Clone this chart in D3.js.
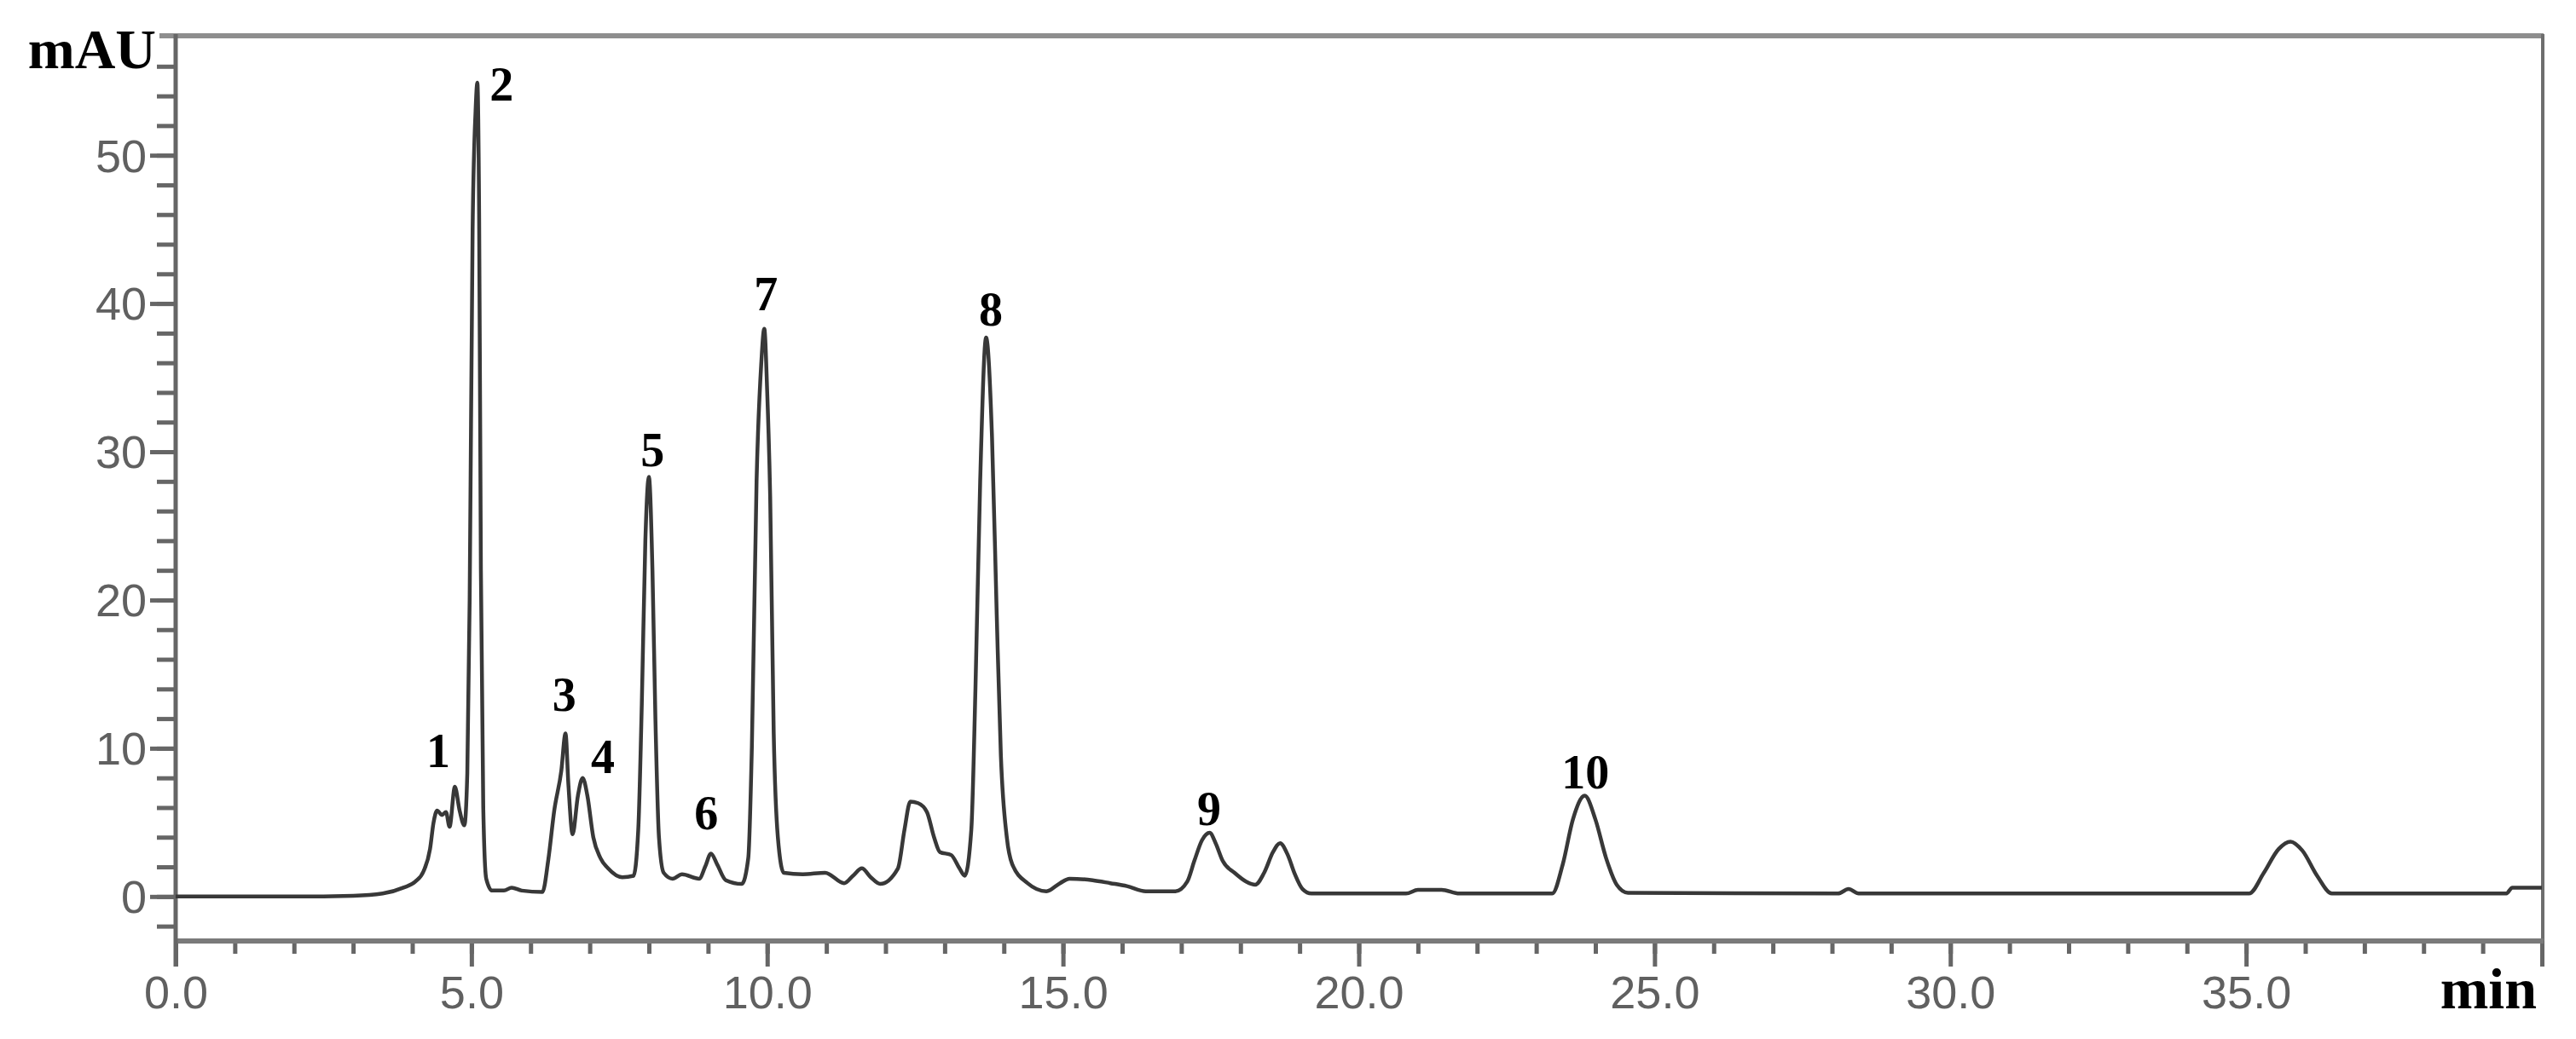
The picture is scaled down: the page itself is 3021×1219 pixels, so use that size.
<!DOCTYPE html>
<html><head><meta charset="utf-8">
<script src="https://cdn.jsdelivr.net/npm/d3@7/dist/d3.min.js"></script>
<style>body{margin:0;background:#fff}svg{display:block}</style>
</head><body>
<svg id="chart" width="3021" height="1219"></svg>
<script>
// ---- data ----
const times = [0.0,1.0,2.0,3.0,3.5,3.85,4.05,4.19,4.30,4.36,4.42,4.50,4.57,4.63,4.72,4.80,4.88,4.93,4.97,5.02,5.07,5.10,5.13,5.16,5.20,5.25,5.35,5.55,5.68,5.85,6.20,6.30,6.40,6.52,6.59,6.64,6.71,6.80,6.88,6.96,7.06,7.18,7.31,7.55,7.74,7.82,7.88,7.94,8.00,8.06,8.11,8.17,8.25,8.40,8.56,8.85,8.95,9.05,9.15,9.30,9.57,9.68,9.74,9.82,9.90,9.95,10.00,10.05,10.11,10.18,10.28,10.60,10.98,11.30,11.45,11.60,11.75,11.91,12.21,12.32,12.42,12.55,12.70,12.82,12.92,13.11,13.25,13.34,13.45,13.52,13.60,13.70,13.80,13.88,13.95,14.05,14.14,14.40,14.72,14.95,15.11,15.50,15.80,16.08,16.40,16.90,17.10,17.22,17.35,17.48,17.58,17.70,17.90,18.10,18.25,18.40,18.55,18.67,18.80,18.92,19.05,19.20,20.00,20.80,21.00,21.40,21.70,23.27,23.45,23.62,23.82,24.00,24.18,24.36,24.55,28.10,28.28,28.45,35.05,35.30,35.55,35.75,35.95,36.20,36.45,39.40,39.50,40.00];
const absorbance = [0.0,0.0,0.0,0.05,0.2,0.6,1.0,1.7,3.2,5.0,5.8,5.5,5.7,4.7,7.4,5.8,4.8,8.3,20,45,53,54.9,46,22,6,1.2,0.4,0.4,0.6,0.4,0.3,2.5,5.8,8.5,11.0,7.5,4.2,6.8,8.0,6.8,4.0,2.6,1.9,1.3,1.4,4.5,13,24,28.3,22,12,4,1.6,1.2,1.5,1.2,2.0,2.9,2.2,1.1,0.85,2.6,10,28,36,38.3,34,27,11,4,1.6,1.5,1.6,0.9,1.4,1.9,1.3,0.85,1.9,4.5,6.4,6.3,5.7,4.0,3.0,2.8,1.9,1.4,4.5,14,28,37.7,31,19,9.5,4.0,2.2,0.9,0.35,0.9,1.2,1.1,0.9,0.7,0.35,0.35,1.0,2.4,3.8,4.3,3.6,2.4,1.6,1.0,0.8,1.6,3.0,3.6,2.8,1.5,0.5,0.2,0.2,0.2,0.45,0.45,0.2,0.2,2.2,5.2,6.8,5.2,2.6,0.8,0.25,0.2,0.5,0.2,0.2,1.6,3.2,3.7,3.1,1.4,0.2,0.2,0.6,0.6];
const peakNames = ["1","2","3","4","5","6","7","8","9","10"];
const peakLabelTimes = [4.44,5.51,6.57,7.22,8.06,8.97,9.98,13.78,17.47,23.83];
const peakLabelValues = [8.74,53.68,12.53,8.33,29.02,4.54,39.54,38.51,4.83,7.30];
const xMajorTicks = [0,5,10,15,20,25,30,35,40];
const xTickLabels = ["0.0","5.0","10.0","15.0","20.0","25.0","30.0","35.0",""];
const yMajorTicks = [0,10,20,30,40,50];
const yTickLabels = ["0","10","20","30","40","50"];
const xUnit = "min";
const yUnit = "mAU";

// ---- layout ----
const svg = d3.select("#chart");
const L = 206, R = 2981, T = 43, B = 1104;
const x = d3.scaleLinear().domain([0, 40]).range([L, R]);
const y = d3.scaleLinear().domain([-3, 58]).range([B, T]);
const axisCol = "#666";
const labelFont = "'Liberation Sans Narrow','Arial Narrow','Liberation Sans',sans-serif";
const serif = "'Liberation Serif','Times New Roman',serif";

svg.append("rect").attr("width", 3021).attr("height", 1219).attr("fill", "#fff");

// frame: top and right borders
svg.append("line").attr("x1", 187).attr("x2", R + 2).attr("y1", 42).attr("y2", 42)
  .attr("stroke", "#8e8e8e").attr("stroke-width", 6);
svg.append("line").attr("x1", R + 1).attr("x2", R + 1).attr("y1", 40).attr("y2", B)
  .attr("stroke", "#6e6e6e").attr("stroke-width", 4);

// x axis minor ticks
const xMinor = svg.append("g").attr("transform", `translate(0,${B})`)
  .call(d3.axisBottom(x).tickValues(d3.range(1, 40)).tickSize(15).tickFormat(""));
// x axis major ticks + labels
const xMajor = svg.append("g").attr("transform", `translate(0,${B})`)
  .call(d3.axisBottom(x).tickValues(xMajorTicks).tickSize(30).tickPadding(10)
    .tickFormat((d, i) => xTickLabels[i]));
// y axis minor
const yMinor = svg.append("g").attr("transform", `translate(${L},0)`)
  .call(d3.axisLeft(y).tickValues(d3.range(-2, 57, 2)).tickSize(22).tickFormat(""));
// y axis major
const yMajor = svg.append("g").attr("transform", `translate(${L},0)`)
  .call(d3.axisLeft(y).tickValues(yMajorTicks).tickSize(30).tickPadding(4)
    .tickFormat((d, i) => yTickLabels[i]));

[xMinor, xMajor, yMinor, yMajor].forEach(g => {
  g.select(".domain").remove();
  g.selectAll(".tick line").attr("stroke", axisCol).attr("stroke-width", 5);
  g.selectAll(".tick text").attr("fill", "#606060")
    .style("font-family", labelFont).style("font-size", "54px");
});
xMajor.selectAll(".tick text").attr("dy", "0.72em");
yMajor.selectAll(".tick text").attr("dy", "0.35em");

// axis lines
svg.append("line").attr("x1", L).attr("x2", R + 2).attr("y1", B).attr("y2", B)
  .attr("stroke", "#7a7a7a").attr("stroke-width", 6);
svg.append("line").attr("x1", L).attr("x2", L).attr("y1", 40).attr("y2", B + 30)
  .attr("stroke", axisCol).attr("stroke-width", 5);

// trace
const pts = times.map((t, i) => [t, absorbance[i]]);
svg.append("path").datum(pts)
  .attr("d", d3.line().x(d => x(d[0])).y(d => y(d[1])).curve(d3.curveMonotoneX))
  .attr("fill", "none").attr("stroke", "#383838").attr("stroke-width", 4.5)
  .attr("stroke-linejoin", "round");

// peak labels
svg.append("g").selectAll("text").data(peakNames).join("text")
  .attr("x", (d, i) => x(peakLabelTimes[i]))
  .attr("y", (d, i) => y(peakLabelValues[i]))
  .attr("text-anchor", "middle")
  .style("font-family", serif).style("font-weight", "bold").style("font-size", "56px")
  .attr("fill", "#000").text(d => d);

// unit labels
svg.append("text").attr("x", 183).attr("y", 80).attr("text-anchor", "end")
  .style("font-family", serif).style("font-weight", "bold").style("font-size", "66px")
  .text(yUnit);
svg.append("text").attr("x", 2975).attr("y", 1183).attr("text-anchor", "end")
  .style("font-family", serif).style("font-weight", "bold").style("font-size", "68px")
  .text(xUnit);
</script>
</body></html>
